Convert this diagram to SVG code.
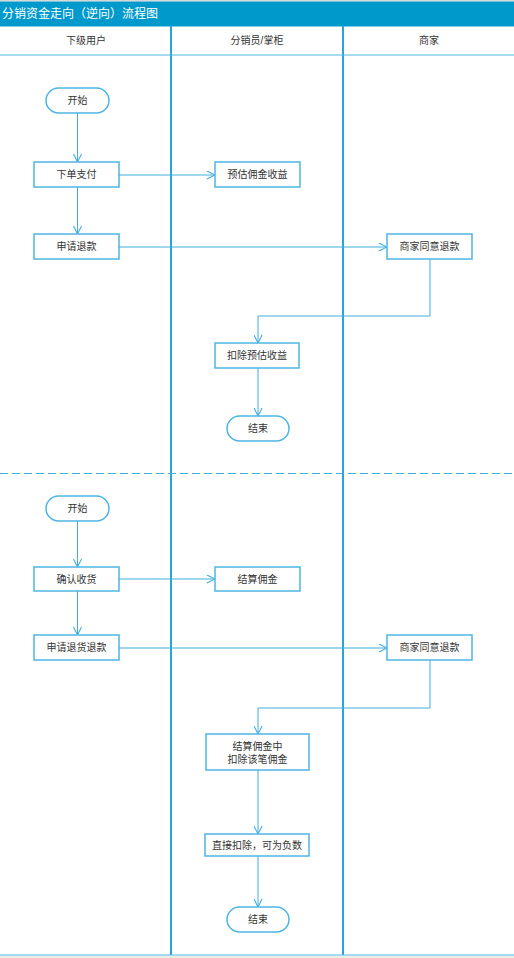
<svg xmlns="http://www.w3.org/2000/svg" width="514" height="958" viewBox="0 0 514 958">
<defs>
<style>
text{font-family:"Liberation Sans","Noto Sans CJK SC",sans-serif;font-size:10px;fill:#333;text-anchor:middle;dominant-baseline:central}
.title{font-size:12px;fill:#fff;text-anchor:start}
.node rect{fill:#fff;stroke:#4DB5E2;stroke-width:1.5}
.conn path{fill:none;stroke:#3FAEDD;stroke-width:1}
.lane{stroke:#2AA4D6;stroke-width:2}
.hl{stroke:#4DB5E2;stroke-width:1}
</style>
<marker id="arr" viewBox="0 0 10 10" refX="10" refY="5" markerWidth="9" markerHeight="9" markerUnits="userSpaceOnUse" orient="auto">
<path d="M1,0.5 L10,5 L1,9.5" fill="none" stroke="#3FAEDD" stroke-width="1.2"/>
</marker>
</defs>
<rect x="0" y="0" width="514" height="958" fill="#fff"/>
<rect x="0" y="0" width="514" height="1.5" fill="#d8d8d8"/>
<rect x="0" y="1.5" width="514" height="25" fill="#0099CC"/>
<text class="title" x="2" y="14">分销资金走向（逆向）流程图</text>
<g id="lanes">
<line class="lane" x1="171" y1="26" x2="171" y2="955"/>
<line class="lane" x1="343" y1="26" x2="343" y2="955"/>
<line class="hl" x1="0" y1="55" x2="514" y2="55"/>
<line class="hl" x1="0" y1="955" x2="514" y2="955"/>
<rect x="0" y="956" width="514" height="2" fill="#ebebeb"/>
<line x1="0" y1="473.5" x2="512" y2="473.5" stroke="#3FAEDD" stroke-width="1" stroke-dasharray="8,4"/>
<text x="86" y="40">下级用户</text>
<text x="257" y="40">分销员/掌柜</text>
<text x="429" y="40">商家</text>
</g>
<g class="conn" id="connectors">
<path d="M77.5,113 V162" marker-end="url(#arr)"/>
<path d="M119,175 H215" marker-end="url(#arr)"/>
<path d="M77.5,187 V234" marker-end="url(#arr)"/>
<path d="M119,247 H387" marker-end="url(#arr)"/>
<path d="M430,259 V316 H258 V343" marker-end="url(#arr)"/>
<path d="M258,368 V416" marker-end="url(#arr)"/>
<path d="M77.5,521 V567" marker-end="url(#arr)"/>
<path d="M119,579 H215" marker-end="url(#arr)"/>
<path d="M77.5,591 V635" marker-end="url(#arr)"/>
<path d="M119,648 H387" marker-end="url(#arr)"/>
<path d="M430,660 V708 H258 V734" marker-end="url(#arr)"/>
<path d="M258,770 V834" marker-end="url(#arr)"/>
<path d="M258,856 V907" marker-end="url(#arr)"/>
</g>
<g class="node" id="start1"><rect x="46" y="88" width="63" height="25" rx="12.5"/><text x="77.5" y="100.5">开始</text></g>
<g class="node" id="order"><rect x="34" y="162" width="85" height="25"/><text x="76.5" y="174.5">下单支付</text></g>
<g class="node" id="estimate"><rect x="215" y="162" width="85" height="25"/><text x="257.5" y="174.5">预估佣金收益</text></g>
<g class="node" id="refund1"><rect x="34" y="234" width="85" height="25"/><text x="76.5" y="246.5">申请退款</text></g>
<g class="node" id="agree1"><rect x="387" y="234" width="85" height="25"/><text x="429.5" y="246.5">商家同意退款</text></g>
<g class="node" id="deduct1"><rect x="215" y="343" width="84" height="25"/><text x="257" y="355.5">扣除预估收益</text></g>
<g class="node" id="end1"><rect x="227" y="416" width="62" height="25" rx="12.5"/><text x="258" y="428.5">结束</text></g>
<g class="node" id="start2"><rect x="46" y="496" width="63" height="25" rx="12.5"/><text x="77.5" y="508.5">开始</text></g>
<g class="node" id="confirm"><rect x="34" y="567" width="85" height="24"/><text x="76.5" y="579">确认收货</text></g>
<g class="node" id="settle"><rect x="215" y="567" width="85" height="24"/><text x="257.5" y="579">结算佣金</text></g>
<g class="node" id="refund2"><rect x="34" y="635" width="85" height="25"/><text x="76.5" y="647.5">申请退货退款</text></g>
<g class="node" id="agree2"><rect x="387" y="635" width="85" height="25"/><text x="429.5" y="647.5">商家同意退款</text></g>
<g class="node" id="deduct2"><rect x="206" y="734" width="103" height="36"/><text x="257.5" y="746">结算佣金中</text><text x="257.5" y="759">扣除该笔佣金</text></g>
<g class="node" id="direct"><rect x="205" y="834" width="104" height="22"/><text x="257" y="845">直接扣除，可为负数</text></g>
<g class="node" id="end2"><rect x="227" y="907" width="62" height="25" rx="12.5"/><text x="258" y="919.5">结束</text></g>
</svg>
